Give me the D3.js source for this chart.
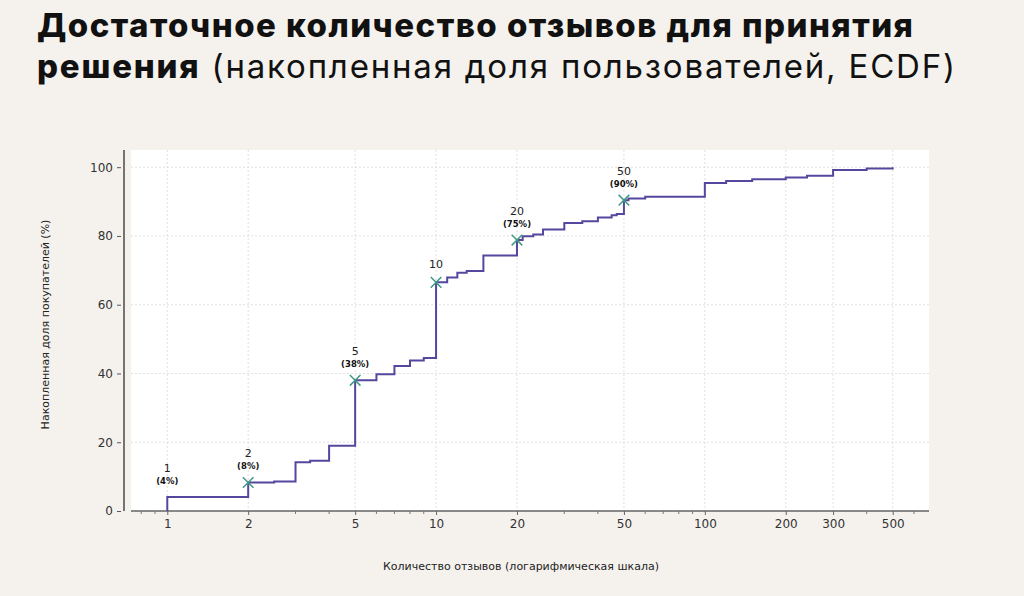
<!DOCTYPE html>
<html>
<head>
<meta charset="utf-8">
<script src="https://cdn.jsdelivr.net/npm/d3@7"></script>
<style>
  body { margin: 0; background: #f5f2ee; }
  svg { display: block; }
  .title { font-family: Inter, "Noto Sans", sans-serif; font-size: 33px; fill: #111; }
  .axis text { font-family: "DejaVu Sans", sans-serif; font-size: 12px; fill: #333; }
  .axis-title { font-family: "DejaVu Sans", sans-serif; font-size: 11px; fill: #222; }
  .grid line { stroke: #d8d8d8; stroke-width: 0.8; stroke-dasharray: 2,2; }
  .ann-num { font-family: "DejaVu Sans", sans-serif; font-size: 11px; fill: #222; }
  .ann-pct { font-family: "DejaVu Sans", sans-serif; font-size: 8.5px; font-weight: bold; fill: #111; }
</style>
</head>
<body>
<svg width="1024" height="596"></svg>
<script>
var stepReviews = [1, 2, 2.5, 3, 3.4, 4, 5, 6, 7, 8, 9, 10, 11, 12, 13, 15, 20, 21, 23, 25, 30, 35, 40, 45, 47, 50, 52, 60, 100, 120, 150, 200, 240, 300, 400, 500];
var stepShare   = [4.1, 8.3, 8.6, 14.2, 14.6, 19.0, 38.0, 39.8, 42.2, 43.8, 44.5, 66.5, 67.9, 69.3, 69.8, 74.3, 78.8, 79.9, 80.4, 81.9, 83.8, 84.3, 85.4, 86.0, 86.4, 90.4, 90.9, 91.4, 95.4, 96.0, 96.5, 97.0, 97.5, 99.2, 99.6, 100];

// highlighted thresholds
var markReviews = [2, 5, 10, 20, 50];
var labelReviews = [1, 2, 5, 10, 20, 50];
var labelPct = ["4%", "8%", "38%", null, "75%", "90%"];

var xTickValues = [1, 2, 5, 10, 20, 50, 100, 200, 300, 500];
var yTickValues = [0, 20, 40, 60, 80, 100];

var svg = d3.select("svg"),
    pLeft = 131, pRight = 929, pTop = 150, pBottom = 511;

var x = d3.scaleLog()
    .domain([Math.pow(10, -0.135), Math.pow(10, 2.834)])
    .range([pLeft, pRight]);

var y = d3.scaleLinear()
    .domain([0, 105])
    .range([pBottom, pTop]);

// title
svg.append("text").attr("class", "title")
    .attr("x", 37).attr("y", 37)
    .attr("font-weight", 800)
    .attr("textLength", 876).attr("lengthAdjust", "spacing")
    .text("Достаточное количество отзывов для принятия");
var t2 = svg.append("text").attr("class", "title").attr("x", 37).attr("y", 78)
    .attr("textLength", 918).attr("lengthAdjust", "spacing");
t2.append("tspan").attr("font-weight", 800).text("решения");
t2.append("tspan").attr("font-weight", 400).text(" (накопленная доля пользователей, ECDF)");

// plot area
svg.append("rect")
    .attr("x", pLeft).attr("y", pTop)
    .attr("width", pRight - pLeft).attr("height", pBottom - pTop)
    .attr("fill", "#fff");

// grid
var grid = svg.append("g").attr("class", "grid");
grid.selectAll(".gx").data(xTickValues).enter().append("line")
    .attr("x1", d => x(d)).attr("x2", d => x(d))
    .attr("y1", pTop).attr("y2", pBottom);
grid.selectAll(".gy").data(yTickValues).enter().append("line")
    .attr("x1", pLeft).attr("x2", pRight)
    .attr("y1", d => y(d)).attr("y2", d => y(d));

// minor ticks on log axis
var minor = [];
[0.1, 1, 10, 100].forEach(function(dec) {
    for (var k = 1; k < 10; k++) {
        var v = +(k * dec).toPrecision(6);
        if (v >= x.domain()[0] && v <= x.domain()[1] && xTickValues.indexOf(v) < 0) minor.push(v);
    }
});

// x axis
var xAxis = d3.axisBottom(x)
    .tickValues(xTickValues)
    .tickFormat(d3.format("d"))
    .tickSize(4)
    .tickPadding(4);
var gx = svg.append("g")
    .attr("class", "axis")
    .attr("transform", "translate(0," + pBottom + ")")
    .call(xAxis);
gx.select(".domain").attr("stroke", "#666").attr("stroke-width", 1.3)
    .attr("d", "M" + pLeft + ",0H" + pRight);
gx.selectAll(".tick line").attr("stroke", "#666");
gx.selectAll(".minor").data(minor).enter().append("line")
    .attr("class", "minor")
    .attr("x1", d => x(d)).attr("x2", d => x(d))
    .attr("y1", 0).attr("y2", 3)
    .attr("stroke", "#777");

// y axis (offset spine)
var yAxis = d3.axisLeft(y)
    .tickValues(yTickValues)
    .tickSize(4)
    .tickPadding(4);
var gy = svg.append("g")
    .attr("class", "axis")
    .attr("transform", "translate(121,0)")
    .call(yAxis);
gy.select(".domain").remove();
gy.selectAll(".tick line").attr("stroke", "#555");
svg.append("line")
    .attr("x1", 124).attr("x2", 124)
    .attr("y1", pTop).attr("y2", pBottom)
    .attr("stroke", "#666").attr("stroke-width", 1.8);

// axis titles
svg.append("text").attr("class", "axis-title")
    .attr("x", (pLeft + pRight) / 2 - 9).attr("y", 570)
    .attr("text-anchor", "middle")
    .text("Количество отзывов (логарифмическая шкала)");
svg.append("text").attr("class", "axis-title")
    .attr("transform", "translate(49," + ((pTop + pBottom) / 2 - 6) + ") rotate(-90)")
    .attr("text-anchor", "middle")
    .text("Накопленная доля покупателей (%)");

// ECDF step line
var pts = [[stepReviews[0], 0]].concat(stepReviews.map((d, i) => [d, stepShare[i]]));
var line = d3.line()
    .x(d => x(d[0]))
    .y(d => y(d[1]))
    .curve(d3.curveStepAfter);
svg.append("path")
    .attr("d", line(pts))
    .attr("fill", "none")
    .attr("stroke", "#54479e")
    .attr("stroke-width", 2);

function shareAt(v) {
    return stepShare[stepReviews.indexOf(v)];
}

// markers
var cross = d3.symbol().type(d3.symbolX).size(75);
svg.selectAll(".mark").data(markReviews).enter().append("path")
    .attr("class", "mark")
    .attr("d", cross)
    .attr("transform", d => "translate(" + x(d) + "," + y(shareAt(d)) + ")")
    .attr("fill", "none")
    .attr("stroke", "#3f9a85")
    .attr("stroke-width", 1.5);

// annotations
labelReviews.forEach(function(v, i) {
    var px = x(v), py = y(shareAt(v));
    var pct = labelPct[i];
    svg.append("text").attr("class", "ann-num")
        .attr("x", px).attr("y", pct ? py - 25 : py - 14)
        .attr("text-anchor", "middle")
        .text(v);
    if (pct) {
        svg.append("text").attr("class", "ann-pct")
            .attr("x", px).attr("y", py - 13)
            .attr("text-anchor", "middle")
            .text("(" + pct + ")");
    }
});
</script>
</body>
</html>
